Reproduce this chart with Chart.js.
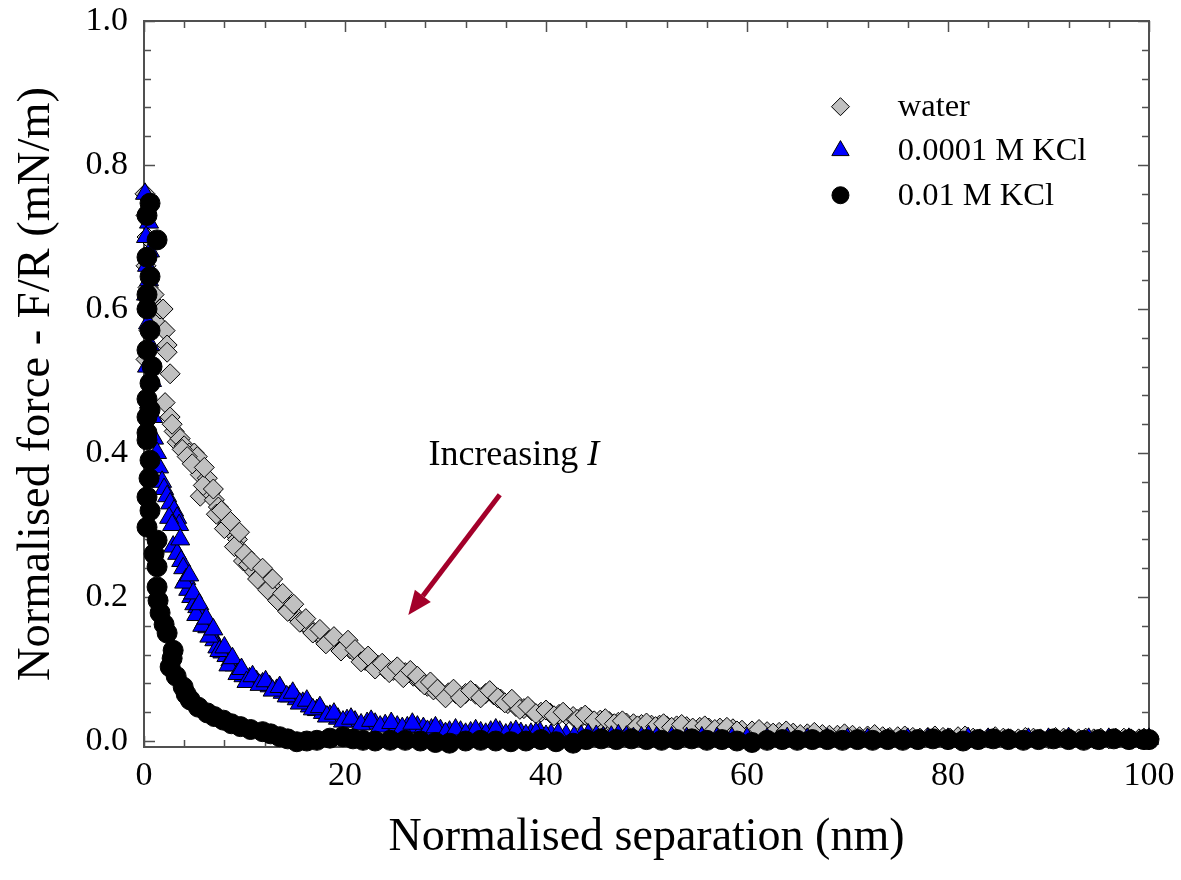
<!DOCTYPE html>
<html>
<head>
<meta charset="utf-8">
<title>Normalised force vs separation</title>
<script src="https://cdn.jsdelivr.net/npm/chart.js@4.4.1/dist/chart.umd.min.js"></script>
<style>
  html, body { margin: 0; padding: 0; background: #fff; }
  #wrap { width: 1181px; height: 880px; }
</style>
</head>
<body>
<div id="wrap"><canvas id="forceChart" width="1181" height="880"></canvas></div>
<script>
// ---- data ----
const seriesLabels = ['water', '0.0001 M KCl', '0.01 M KCl'];
const xTickLabels = [0, 20, 40, 60, 80, 100];
const yTickLabels = [0.0, 0.2, 0.4, 0.6, 0.8, 1.0];

// water (grey diamonds)
const waterX = [
  0.1, 0.2, 0.3, 0.2, 0.4, 0.3, 0.5, 0.2, 0.6, 1.0,
  1.3, 1.6, 1.9, 2.1, 2.3, 2.3, 2.6, 2.1, 2.6, 3.0,
  3.3, 3.6, 4.0, 4.5, 5.0, 5.3, 5.6, 5.6, 6.3, 6.6,
  7.0, 7.4, 7.9, 8.3, 8.8, 9.3, 9.6, 9.9, 10.4, 11.0,
  11.6, 12.0, 12.5, 13.0, 13.5, 14.0, 14.6, 15.2, 15.8, 16.4,
  17.2, 17.8, 18.5, 19.2, 20.0, 20.5, 21.2, 22.0, 22.5, 23.3,
  24.0, 24.8, 25.5, 26.0, 26.8, 27.5, 28.2, 28.8, 29.5, 30.3,
  31.0, 32.0, 33.0, 34.0, 34.8, 35.5, 36.2, 37.0, 37.8, 38.6,
  39.5, 40.4, 41.3, 42.0, 42.7, 43.5, 44.3, 45.4, 46.3, 47.2,
  48.0, 48.7, 49.5, 50.5, 51.3, 52.0, 53.0, 54.0, 55.3, 56.2,
  57.3, 58.6, 59.5, 60.5, 62.0, 63.2, 64.6, 66.0, 67.5, 69.0,
  70.5, 72.0, 73.5, 75.0, 76.5, 78.0, 79.5, 81.0, 82.5, 84.0,
  85.5, 87.0, 88.5, 90.0, 91.5, 93.0, 94.5, 96.0, 97.5, 99.0,
  100,
  2.8, 3.8, 4.3, 4.8, 5.9, 6.0, 6.9, 7.2, 7.7, 8.0,
  8.6, 9.0, 9.5, 10.0, 10.7, 11.3, 11.8, 12.3, 12.8, 13.3,
  13.8, 14.3, 14.9, 15.5, 16.1, 16.8, 17.5, 18.1, 18.9, 19.6,
  20.3, 21.0, 21.6, 22.3, 23.0, 23.7, 24.4, 25.2, 25.8, 26.5,
  27.2, 27.9, 28.5, 29.2, 30.0, 30.8, 31.5, 32.5, 33.5, 34.4,
  35.2, 35.9, 36.6, 37.4, 38.2, 39.0, 40.0, 40.8, 41.7, 43.1,
  43.9, 44.8, 45.9, 46.8, 47.6, 49.1, 50.0, 50.9, 51.7, 52.5,
  53.5, 54.6, 55.8, 56.8, 58.0, 59.0, 61.2, 62.6, 63.9, 65.3,
  66.7, 68.2, 69.7, 71.2, 72.7, 74.2, 75.7, 77.2, 78.7, 80.2,
  81.7, 83.2, 84.7, 86.2, 87.7, 89.2, 90.7, 92.2, 93.7, 95.2,
  96.7, 98.2, 99.5
];
const waterY = [
  0.76, 0.73, 0.70, 0.66, 0.63, 0.60, 0.57, 0.53, 0.50, 0.62,
  0.58, 0.60, 0.60, 0.57, 0.55, 0.54, 0.51, 0.47, 0.45, 0.43,
  0.415, 0.42, 0.41, 0.40, 0.40, 0.395, 0.37, 0.34, 0.365, 0.345,
  0.335, 0.325, 0.31, 0.30, 0.29, 0.28, 0.265, 0.25, 0.245, 0.235,
  0.23, 0.225, 0.22, 0.21, 0.20, 0.19, 0.18, 0.172, 0.165, 0.158,
  0.15, 0.145, 0.14, 0.135, 0.132, 0.128, 0.12, 0.112, 0.11, 0.105,
  0.10, 0.098, 0.097, 0.095, 0.09, 0.083, 0.076, 0.071, 0.068, 0.067,
  0.066, 0.066, 0.065, 0.066, 0.064, 0.058, 0.052, 0.048, 0.045, 0.042,
  0.04, 0.039, 0.037, 0.036, 0.034, 0.033, 0.031, 0.029, 0.027, 0.026,
  0.025, 0.024, 0.023, 0.022, 0.022, 0.021, 0.021, 0.02, 0.019, 0.018,
  0.018, 0.017, 0.015, 0.014, 0.013, 0.012, 0.011, 0.010, 0.009, 0.008,
  0.008, 0.007, 0.006, 0.006, 0.005, 0.005, 0.005, 0.006, 0.004, 0.004,
  0.004, 0.003, 0.004, 0.003, 0.004, 0.003, 0.003, 0.003, 0.004, 0.003,
  0.003,
  0.44, 0.405, 0.395, 0.385, 0.355, 0.38, 0.35, 0.315, 0.32, 0.295,
  0.305, 0.27, 0.29, 0.26, 0.25, 0.225, 0.24, 0.21, 0.225, 0.195,
  0.205, 0.18, 0.19, 0.165, 0.17, 0.15, 0.155, 0.135, 0.145, 0.125,
  0.14, 0.127, 0.11, 0.118, 0.1, 0.108, 0.095, 0.103, 0.088, 0.098,
  0.09, 0.078, 0.082, 0.072, 0.06, 0.072, 0.06, 0.07, 0.06, 0.07,
  0.06, 0.053, 0.058, 0.044, 0.048, 0.038, 0.043, 0.035, 0.04, 0.03,
  0.036, 0.028, 0.031, 0.024, 0.028, 0.021, 0.025, 0.02, 0.024, 0.019,
  0.023, 0.018, 0.021, 0.016, 0.019, 0.014, 0.016, 0.011, 0.014, 0.009,
  0.012, 0.008, 0.01, 0.006, 0.009, 0.005, 0.007, 0.004, 0.007, 0.004,
  0.007, 0.003, 0.006, 0.003, 0.005, 0.003, 0.005, 0.003, 0.004, 0.004,
  0.004, 0.003, 0.004
];

// 0.0001 M KCl (blue triangles)
const kclLowX = [
  0.1, 0.3, 0.5, 0.2, 0.6, 0.3, 0.5, 0.2, 0.4, 0.6,
  0.3, 0.8, 0.5, 0.9, 1.0, 1.3, 1.5, 1.8, 2.0, 2.3,
  2.6, 3.0, 3.3, 3.5, 2.9, 3.3, 3.7, 3.9, 4.2, 4.4,
  4.7, 5.0, 5.3, 5.6, 6.0, 6.3, 6.7, 7.0, 7.3, 7.8,
  8.2, 8.6, 9.0, 9.5, 9.9, 10.5, 11.2, 11.8, 12.5, 13.2,
  13.8, 14.5, 15.2, 15.8, 16.5, 17.2, 17.8, 18.5, 19.3, 20.2,
  21.0, 22.2, 23.0, 24.0, 25.2, 26.2, 27.2, 27.8, 28.6, 29.5,
  30.4, 31.5, 32.5, 33.5, 34.5, 35.4, 36.5, 37.5, 38.5, 39.4,
  40.5, 42, 43.5, 45, 46.5, 48, 49.5, 51, 52.5, 54,
  55.5, 57, 58.5, 60, 62, 64, 66, 68, 70, 72,
  74, 76, 78, 80, 82, 84, 86, 88, 90, 92,
  94, 96, 98, 100,
  2.5, 2.8, 3.6, 4.0, 4.5, 4.9, 5.2, 5.5, 5.8, 6.2,
  6.5, 6.9, 7.5, 8.0, 8.4, 8.8, 9.3, 9.7, 10.2, 10.8,
  11.5, 12.1, 12.8, 13.5, 14.2, 14.8, 15.5, 16.2, 16.8, 17.5,
  18.2, 18.9, 19.8, 20.6, 21.6, 22.6, 23.5, 24.6, 25.7, 26.7,
  28.2, 29.0, 30.0, 31.0, 32.0, 33.0, 34.0, 35.0, 36.0, 37.0,
  38.0, 39.0, 40.0, 41.2, 42.8, 44.2, 45.7, 47.2, 48.7, 50.2
];
const kclLowY = [
  0.76, 0.74, 0.72, 0.70, 0.68, 0.66, 0.64, 0.62, 0.58, 0.55,
  0.52, 0.50, 0.47, 0.45, 0.42, 0.40, 0.38, 0.36, 0.35, 0.34,
  0.33, 0.32, 0.31, 0.30, 0.27, 0.26, 0.25, 0.24, 0.225, 0.21,
  0.20, 0.19, 0.186, 0.175, 0.165, 0.158, 0.148, 0.14, 0.13, 0.123,
  0.118, 0.112, 0.105, 0.098, 0.09, 0.087, 0.083, 0.08, 0.076, 0.071,
  0.067, 0.062, 0.058, 0.053, 0.048, 0.043, 0.039, 0.035, 0.031, 0.029,
  0.027, 0.025, 0.024, 0.022, 0.02, 0.019, 0.02, 0.018, 0.016, 0.015,
  0.013, 0.013, 0.012, 0.012, 0.013, 0.013, 0.012, 0.011, 0.01, 0.012,
  0.009, 0.008, 0.007, 0.007, 0.006, 0.006, 0.005, 0.005, 0.005, 0.004,
  0.005, 0.004, 0.004, 0.004, 0.003, 0.004, 0.003, 0.003, 0.003, 0.003,
  0.002, 0.003, 0.003, 0.003, 0.004, 0.003, 0.002, 0.003, 0.003, 0.004,
  0.003, 0.003, 0.003, 0.003,
  0.31, 0.30, 0.28, 0.22, 0.23, 0.205, 0.175, 0.19, 0.16, 0.17,
  0.145, 0.155, 0.125, 0.13, 0.105, 0.115, 0.093, 0.1, 0.082, 0.09,
  0.078, 0.083, 0.07, 0.075, 0.062, 0.067, 0.052, 0.056, 0.044, 0.047,
  0.034, 0.038, 0.027, 0.031, 0.023, 0.028, 0.02, 0.025, 0.018, 0.024,
  0.014, 0.019, 0.011, 0.016, 0.01, 0.015, 0.01, 0.016, 0.009, 0.014,
  0.008, 0.011, 0.007, 0.01, 0.006, 0.009, 0.005, 0.008, 0.004, 0.007
];

// 0.01 M KCl (black circles)
const kclHighX = [
  0.6, 0.3, 1.3, 0.3, 0.6, 0.3, 0.3, 0.6, 0.3, 0.8,
  0.6, 0.3, 0.3, 0.6, 0.3, 0.3, 0.6, 0.5, 0.3, 0.6,
  0.3, 1.3, 1.0, 1.3, 1.3, 1.4, 1.6, 2.0, 2.3, 2.9,
  2.8, 2.6, 3.2, 3.9, 4.2, 4.6, 5.4, 6.3, 7.0, 7.9,
  8.7, 9.6, 10.6, 11.8, 12.6, 13.5, 14.3, 15.2, 16.2, 17.2,
  18.5, 19.8, 20.8, 21.8, 23.0, 24.5, 26.0, 27.5, 29.0, 30.4,
  32.0, 33.5, 35.0, 36.5, 38.0, 39.5, 41.0, 42.7, 44.0, 45.5,
  47.0, 48.5, 50.0, 51.5, 53.0, 54.5, 56.0, 57.5, 59.0, 60.5,
  62.0, 63.5, 65.0, 66.5, 68.0, 69.5, 71.0, 72.5, 74.0, 75.5,
  77.0, 78.5, 80.0, 81.5, 83.0, 84.5, 86.0, 87.5, 89.0, 90.5,
  92.0, 93.5, 95.0, 96.5, 98.0, 99.5, 100
];
const kclHighY = [
  0.747, 0.73, 0.696, 0.672, 0.645, 0.62, 0.60, 0.57, 0.543, 0.52,
  0.497, 0.475, 0.45, 0.46, 0.428, 0.418, 0.39, 0.365, 0.339, 0.32,
  0.297, 0.279, 0.26, 0.242, 0.214, 0.195, 0.178, 0.162, 0.15, 0.126,
  0.115, 0.103, 0.09, 0.075, 0.065, 0.057, 0.047, 0.039, 0.034, 0.029,
  0.024, 0.02, 0.016, 0.013, 0.01, 0.006, 0.003, -0.001, 0.0, 0.001,
  0.004, 0.006, 0.003, 0.001, 0.0, 0.001, 0.001, 0.0, -0.002, -0.003,
  0.0, 0.001, 0.0, -0.001, 0.0, 0.002, -0.001, -0.003, 0.002, 0.003,
  0.002, 0.003, 0.002, 0.001, 0.002, 0.003, 0.001, 0.002, 0.0, -0.002,
  0.001, 0.002, 0.001, 0.002, 0.002, 0.001, 0.002, 0.001, 0.002, 0.001,
  0.002, 0.003, 0.002, 0.0, 0.002, 0.003, 0.002, 0.001, 0.002, 0.003,
  0.002, 0.001, 0.002, 0.003, 0.002, 0.002, 0.002
];

const serif = "'Liberation Serif', 'Times New Roman', serif";
const toPoints = (xs, ys) => xs.map((x, i) => ({ x: x, y: ys[i] }));

// frame with inward ticks on all four sides
const frameTicks = {
  id: 'frameTicks',
  beforeDatasetsDraw(chart) {
    const { ctx, chartArea: a, scales: { x, y } } = chart;
    ctx.save();
    ctx.strokeStyle = '#505050';
    ctx.lineWidth = 2;
    ctx.strokeRect(a.left, a.top, a.right - a.left, a.bottom - a.top);
    ctx.lineWidth = 1.5;
    ctx.beginPath();
    for (let i = 0; i <= 25; i++) {
      const px = Math.round(x.getPixelForValue(i * 4)) + 0.5;
      const len = i % 5 === 0 ? 11 : 7;
      ctx.moveTo(px, a.bottom); ctx.lineTo(px, a.bottom - len);
      ctx.moveTo(px, a.top); ctx.lineTo(px, a.top + len);
    }
    for (let i = 0; i <= 25; i++) {
      const py = Math.round(y.getPixelForValue(i * 0.04)) + 0.5;
      const len = i % 5 === 0 ? 11 : 7;
      ctx.moveTo(a.left, py); ctx.lineTo(a.left + len, py);
      ctx.moveTo(a.right, py); ctx.lineTo(a.right - len, py);
    }
    ctx.stroke();
    ctx.restore();
  }
};

function drawMarker(ctx, style, cx, cy, r, fill) {
  ctx.beginPath();
  if (style === 'rectRot') {
    ctx.moveTo(cx, cy - r); ctx.lineTo(cx + r, cy); ctx.lineTo(cx, cy + r); ctx.lineTo(cx - r, cy);
    ctx.closePath();
  } else if (style === 'triangle') {
    ctx.moveTo(cx, cy - r);
    ctx.lineTo(cx + r * 0.866, cy + r * 0.5);
    ctx.lineTo(cx - r * 0.866, cy + r * 0.5);
    ctx.closePath();
  } else {
    ctx.arc(cx, cy, r, 0, Math.PI * 2);
  }
  ctx.fillStyle = fill;
  ctx.fill();
  ctx.strokeStyle = '#000';
  ctx.lineWidth = 1;
  ctx.stroke();
}

// legend, arrow and label inside the plot
const extras = {
  id: 'extras',
  afterDatasetsDraw(chart) {
    const { ctx, scales: { x, y } } = chart;
    ctx.save();
    const legendRows = [
      { style: 'rectRot', fill: '#c0c0c0', r: 9, yv: 0.881 },
      { style: 'triangle', fill: '#0000ff', r: 10, yv: 0.82 },
      { style: 'circle', fill: '#000000', r: 8.5, yv: 0.758 }
    ];
    ctx.font = '32.5px ' + serif;
    ctx.textBaseline = 'middle';
    ctx.textAlign = 'left';
    legendRows.forEach((row, i) => {
      const cy = y.getPixelForValue(row.yv);
      drawMarker(ctx, row.style, x.getPixelForValue(69.3), cy, row.r, row.fill);
      ctx.fillStyle = '#000';
      ctx.fillText(seriesLabels[i], x.getPixelForValue(75.0), cy + 1);
    });

    // "Increasing I"
    ctx.font = '36px ' + serif;
    ctx.textBaseline = 'alphabetic';
    const tx = x.getPixelForValue(28.3), ty = y.getPixelForValue(0.383);
    ctx.fillText('Increasing ', tx, ty);
    const w = ctx.measureText('Increasing ').width;
    ctx.font = 'italic 36px ' + serif;
    ctx.fillText('I', tx + w, ty);

    // arrow
    const x0 = x.getPixelForValue(35.4), y0 = y.getPixelForValue(0.342);
    const x1 = x.getPixelForValue(26.3), y1 = y.getPixelForValue(0.175);
    const ang = Math.atan2(y1 - y0, x1 - x0);
    const head = 24, half = 10;
    const bx = x1 - head * Math.cos(ang), by = y1 - head * Math.sin(ang);
    ctx.strokeStyle = '#a3002a';
    ctx.fillStyle = '#a3002a';
    ctx.lineWidth = 5;
    ctx.beginPath();
    ctx.moveTo(x0, y0); ctx.lineTo(bx, by);
    ctx.stroke();
    ctx.beginPath();
    ctx.moveTo(x1, y1);
    ctx.lineTo(bx + half * Math.sin(ang), by - half * Math.cos(ang));
    ctx.lineTo(bx - half * Math.sin(ang), by + half * Math.cos(ang));
    ctx.closePath();
    ctx.fill();
    ctx.restore();
  }
};

const ctx = document.getElementById('forceChart').getContext('2d');
new Chart(ctx, {
  type: 'scatter',
  data: {
    datasets: [
      {
        label: seriesLabels[0],
        data: toPoints(waterX, waterY),
        pointStyle: 'rectRot',
        pointRadius: 10,
        backgroundColor: '#c0c0c0',
        borderColor: '#000',
        borderWidth: 1,
        clip: false,
        order: 3
      },
      {
        label: seriesLabels[1],
        data: toPoints(kclLowX, kclLowY),
        pointStyle: 'triangle',
        pointRadius: 11,
        backgroundColor: '#0000ff',
        borderColor: '#000',
        borderWidth: 1,
        clip: false,
        order: 2
      },
      {
        label: seriesLabels[2],
        data: toPoints(kclHighX, kclHighY),
        pointStyle: 'circle',
        pointRadius: 10,
        backgroundColor: '#000',
        borderColor: '#000',
        borderWidth: 1,
        clip: false,
        order: 1
      }
    ]
  },
  options: {
    responsive: false,
    animation: false,
    layout: { padding: { left: 0, right: 32, top: 21, bottom: 0 } },
    plugins: { legend: { display: false }, tooltip: { enabled: false } },
    scales: {
      x: {
        type: 'linear',
        min: 0,
        max: 100,
        grid: { display: false, drawTicks: false },
        border: { display: false },
        ticks: {
          stepSize: 20,
          padding: 9,
          color: '#000',
          font: { family: serif, size: 34 },
          maxRotation: 0,
          callback: v => xTickLabels.includes(v) ? String(v) : null
        },
        title: {
          display: true,
          text: 'Normalised separation (nm)',
          color: '#000',
          font: { family: serif, size: 46 },
          padding: { top: 0, bottom: 14 }
        },
        afterFit(scale) { scale.height = 133; scale.paddingLeft = 0; scale.paddingRight = 0; }
      },
      y: {
        type: 'linear',
        min: -0.0083,
        max: 1.0,
        grid: { display: false, drawTicks: false },
        border: { display: false },
        ticks: {
          stepSize: 0.2,
          includeBounds: false,
          padding: 16,
          color: '#000',
          font: { family: serif, size: 34 },
          callback: v => {
            const hit = yTickLabels.find(t => Math.abs(t - v) < 1e-6);
            return hit === undefined ? null : hit.toFixed(1);
          }
        },
        title: {
          display: true,
          text: 'Normalised force - F/R (mN/m)',
          color: '#000',
          font: { family: serif, size: 46.5 },
          padding: { top: 9, bottom: 0 }
        },
        afterFit(scale) { scale.width = 144; scale.paddingTop = 0; scale.paddingBottom = 0; }
      }
    }
  },
  plugins: [frameTicks, extras]
});
</script>
</body>
</html>
